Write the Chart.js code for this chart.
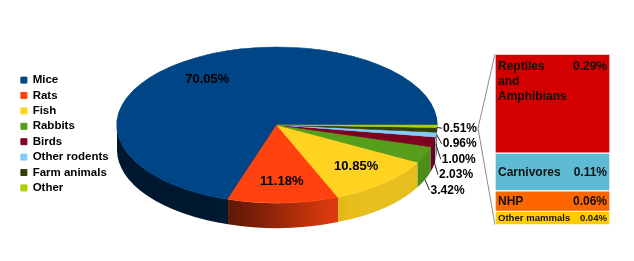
<!DOCTYPE html>
<html><head><meta charset="utf-8">
<script src="https://cdn.jsdelivr.net/npm/chart.js@4.4.1/dist/chart.umd.min.js"></script>
<style>
html,body{margin:0;padding:0;background:#fff;}
#wrap{position:relative;width:634px;height:261px;overflow:hidden;background:#fff;}
#pie{position:absolute;left:0;top:0;}
#bar{position:absolute;left:495px;top:54px;}
</style></head><body>
<div id="wrap"><canvas id="pie" width="634" height="261"></canvas><canvas id="bar" width="115" height="171"></canvas></div>
<script>
// ---- data ----
const categories = ['Mice','Rats','Fish','Rabbits','Birds','Other rodents','Farm animals','Other'];
const percentages = [70.05, 11.18, 10.85, 3.42, 2.03, 1.00, 0.96, 0.51];
const sliceColors = ['#004586','#ff420e','#ffd320','#579d1c','#7e0021','#83caff','#314004','#aecf00'];
const otherCategories = ['Reptiles and Amphibians','Carnivores','NHP','Other mammals'];
const otherPercentages = [0.29, 0.11, 0.06, 0.04];
const otherColors = ['#d40000','#5fbad3','#ff6600','#ffcc00'];

// ---- layout / style ----
const G = {cx:277, cy:125, rx:160, ry:78, depth:25};
const FONT = '"Liberation Sans", Arial, sans-serif';
const TAU = Math.PI*2;

function shade(hex, f){
  const n = parseInt(hex.slice(1),16);
  const r = Math.round(((n>>16)&255)*f), g = Math.round(((n>>8)&255)*f), b = Math.round((n&255)*f);
  return `rgb(${Math.min(255,r)},${Math.min(255,g)},${Math.min(255,b)})`;
}
function light(theta){ // theta in [0,PI], screen angle
  const deg = theta*180/Math.PI;
  let t = (115 - deg)/55; t = Math.max(0, Math.min(1, t));
  t = t*t*(3-2*t);
  return 0.35 + 0.55*t;
}

const barLabels = {
  id:'barLabels',
  afterDatasetsDraw(chart){
    const ctx = chart.ctx;
    ctx.save();
    ctx.fillStyle = '#111';
    ctx.textBaseline = 'middle';
    chart.data.datasets.forEach((ds, d) => {
      const el = chart.getDatasetMeta(d).data[0];
      const {x, y, base, width} = el.getProps(['x','y','base','width'], true);
      const left = x - width/2, right = x + width/2;
      const top = Math.min(y, base), bottom = Math.max(y, base), h = bottom - top;
      const size = Math.min(12, h*0.7);
      ctx.font = `bold ${size}px ${FONT}`;
      const val = ds.data[0].toFixed(2) + '%';
      const lines = [];
      if (h >= 50) {
        const maxW = width*0.55;
        let cur = '';
        ds.label.split(' ').forEach(w => {
          const t = cur ? cur + ' ' + w : w;
          if (cur && ctx.measureText(t).width > maxW) { lines.push(cur); cur = w; } else cur = t;
        });
        lines.push(cur);
      } else lines.push(ds.label);
      const y0 = lines.length > 1 ? top + 13 : (top + bottom)/2 + 0.5;
      ctx.textAlign = 'left';
      lines.forEach((ln, k) => ctx.fillText(ln, left + 3, y0 + k*15));
      ctx.textAlign = 'right';
      ctx.fillText(val, right - 3, y0);
    });
    ctx.restore();
  }
};

const barChart = new Chart(document.getElementById('bar'), {
  type: 'bar',
  data: {
    labels: ['Other'],
    datasets: otherCategories.map((c, i) => ({
      label: c, data: [otherPercentages[i]], backgroundColor: otherColors[i],
      borderColor: '#ffffff', borderWidth: 1, borderSkipped: false
    })).reverse()
  },
  options: {
    responsive: false, animation: false,
    layout: {padding: 0},
    datasets: {bar: {categoryPercentage: 1, barPercentage: 1}},
    scales: {
      x: {display: false, stacked: true},
      y: {display: false, stacked: true, min: 0, max: otherPercentages.reduce((a,b)=>a+b,0)}
    },
    plugins: {legend: {display: false}, tooltip: {enabled: false}}
  },
  plugins: [barLabels]
});

const pie3d = {
  id: 'pie3d',
  beforeDatasetsDraw(chart){
    const ctx = chart.ctx;
    const meta = chart.getDatasetMeta(0);
    // side walls
    meta.data.forEach((el, i) => {
      const s = el.startAngle, e = el.endAngle;
      let a = Math.PI - e;
      const span = e - s;
      a = ((a % TAU) + TAU) % TAU;
      const b = a + span;
      [[0, Math.PI], [TAU, TAU + Math.PI]].forEach(([lo, hi]) => {
        const a1 = Math.max(a, lo), b1 = Math.min(b, hi);
        if (b1 <= a1) return;
        const xl = G.cx + G.rx*Math.cos(b1), xr = G.cx + G.rx*Math.cos(a1);
        const grad = ctx.createLinearGradient(xl, 0, xr + 0.01, 0);
        for (let k = 0; k <= 8; k++) {
          const th = b1 + (a1 - b1)*k/8;
          const xx = G.cx + G.rx*Math.cos(th);
          const pos = Math.max(0, Math.min(1, (xx - xl)/((xr - xl) || 1)));
          grad.addColorStop(pos, shade(sliceColors[i], light(th - lo)));
        }
        ctx.beginPath();
        ctx.ellipse(G.cx, G.cy, G.rx, G.ry, 0, a1, b1, false);
        ctx.lineTo(G.cx + G.rx*Math.cos(b1), G.cy + G.ry*Math.sin(b1) + G.depth);
        ctx.ellipse(G.cx, G.cy + G.depth, G.rx, G.ry, 0, b1, a1, true);
        ctx.closePath();
        ctx.fillStyle = grad;
        ctx.fill();
      });
    });
    // map the library's circle onto the tilted ellipse (mirrored so slices run counter-clockwise)
    const el0 = meta.data[0];
    const R = el0.outerRadius;
    ctx.save();
    ctx.translate(G.cx, G.cy);
    ctx.scale(-G.rx/R, G.ry/R);
    ctx.translate(-el0.x, -el0.y);
  },
  afterDatasetsDraw(chart){
    const ctx = chart.ctx;
    ctx.restore();
    const meta = chart.getDatasetMeta(0);
    const data = chart.data.datasets[0].data;
    const outer = [];
    ctx.save();
    ctx.fillStyle = '#000';
    ctx.textBaseline = 'middle';
    meta.data.forEach((el, i) => {
      const m = Math.PI - (el.startAngle + el.endAngle)/2;
      const txt = data[i].toFixed(2) + '%';
      if (data[i] >= 5) {
        ctx.font = `bold 13px ${FONT}`;
        ctx.textAlign = 'center';
        ctx.fillText(txt, G.cx + 0.74*G.rx*Math.cos(m), G.cy + 0.72*G.ry*Math.sin(m));
      } else {
        outer.push({i, m, txt, desired: G.cy + G.ry*Math.sin(m) + 2});
      }
    });
    outer.sort((p, q) => p.desired - q.desired);
    let prev = -Infinity;
    ctx.font = `bold 12px ${FONT}`;
    ctx.textAlign = 'left';
    outer.forEach(o => {
      const y = Math.max(o.desired, prev + 15.5); prev = y;
      const x = G.cx + (G.rx + 6)*Math.cos(o.m);
      const s = Math.sin(o.m);
      const ax = G.cx + G.rx*Math.cos(o.m);
      const ay = G.cy + G.ry*s + G.depth*Math.min(1, Math.max(0, s*3));
      ctx.strokeStyle = '#222'; ctx.lineWidth = 1;
      ctx.beginPath(); ctx.moveTo(ax, ay); ctx.lineTo(x - 1, y); ctx.stroke();
      ctx.fillText(o.txt, x, y);
      o.x = x; o.y = y; o.w = ctx.measureText(o.txt).width;
    });
    // connectors from the broken-out slice label to the bar
    const brk = outer.find(o => o.i === categories.length - 1);
    if (brk) {
      const bc = barChart, cv = bc.canvas;
      const metas = bc.data.datasets.map((d, k) => bc.getDatasetMeta(k).data[0]);
      const topY = Math.min(...metas.map(e => e.y));
      const botY = Math.max(...metas.map(e => e.base));
      const bx = cv.offsetLeft + bc.chartArea.left;
      const sx = brk.x + brk.w + 1, sy = brk.y;
      ctx.strokeStyle = '#8a8a8a'; ctx.lineWidth = 1;
      ctx.beginPath();
      ctx.moveTo(sx, sy); ctx.lineTo(bx, cv.offsetTop + topY);
      ctx.moveTo(sx, sy); ctx.lineTo(bx, cv.offsetTop + botY);
      ctx.stroke();
    }
    ctx.restore();
  }
};

const pieChart = new Chart(document.getElementById('pie'), {
  type: 'pie',
  data: {
    labels: categories,
    datasets: [{data: percentages, backgroundColor: sliceColors, borderColor: sliceColors, borderWidth: 1}]
  },
  options: {
    responsive: false, animation: false, rotation: 270,
    layout: {padding: {left: 17, top: 7, bottom: 0, right: 0}},
    plugins: {
      legend: {
        position: 'left', align: 'center',
        labels: {boxWidth: 6, boxHeight: 6, padding: 3.9, color: '#000',
          font: {family: FONT, weight: 'bold', size: 11.5}}
      },
      tooltip: {enabled: false}
    }
  },
  plugins: [pie3d]
});
</script>
</body></html>
